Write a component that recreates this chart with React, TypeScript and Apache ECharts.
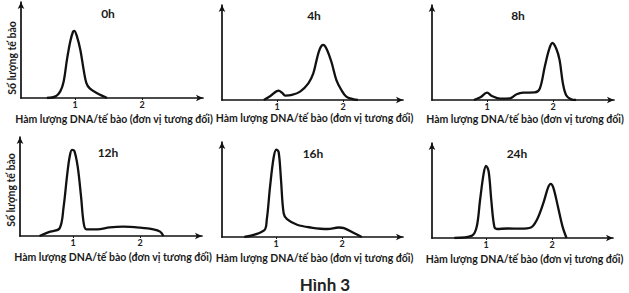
import React, { useEffect, useRef } from "react";
import * as echarts from "echarts";

const TITLES = ["0h", "4h", "8h", "12h", "16h", "24h"];
const X_TICKS = [1, 2];
const X_NAME = "Hàm lượng DNA/tế bào (đơn vị tương đối)";
const Y_NAME = "Số lượng tế bào";
const CAPTION = "Hình 3";

const S0h = [[0.58,0],[0.71,1.7],[0.78,6.9],[0.83,17],[0.88,40],[0.93,59],[0.97,69],[0.99,70],[1.03,64],[1.08,50],[1.13,29],[1.17,15.5],[1.22,10],[1.33,5],[1.48,0]];
const S4h = [[0.8,0],[0.9,4.2],[1.025,9.8],[1.075,7.7],[1.125,4.6],[1.225,5.3],[1.35,8.8],[1.475,17.5],[1.55,28],[1.6,42],[1.65,54],[1.7,58],[1.75,54],[1.825,40],[1.9,21],[1.975,10.5],[2.05,3.5],[2.15,1],[2.225,0]];
const S8h = [[0.8,0],[0.9,2.8],[1.0,7.7],[1.075,4.2],[1.2,1.4],[1.35,1.8],[1.45,6],[1.55,7.7],[1.725,8],[1.8,12],[1.875,35],[1.94,53],[1.99,60],[2.05,54],[2.1,42],[2.15,17.5],[2.2,5],[2.275,0.7],[2.35,0]];
const S12h = [[0.5,0],[0.66,4.4],[0.8,7.7],[0.86,29.5],[0.91,60],[0.95,80],[0.985,87],[1.02,86],[1.07,70],[1.12,40],[1.16,12.8],[1.2,6.7],[1.36,6.7],[1.55,8.7],[1.75,9.4],[2.0,8.4],[2.2,6.7],[2.3,4.4],[2.35,0]];
const S16h = [[0.52,0],[0.82,7],[0.86,18],[0.91,53],[0.965,84],[1.005,92],[1.04,89.5],[1.076,60],[1.116,25],[1.167,18.8],[1.32,12.9],[1.53,10],[1.78,8.4],[1.95,10],[2.03,9.4],[2.18,4.2],[2.3,0]];
const S24h = [[0.52,0],[0.79,2.5],[0.86,12],[0.91,40],[0.965,68],[1.0,76],[1.04,70],[1.08,40],[1.126,12],[1.167,9.5],[1.32,10],[1.53,9.8],[1.68,11],[1.77,19],[1.87,37],[1.94,53],[1.98,57],[2.02,53],[2.09,33],[2.16,12],[2.22,0]];
const SERIES = [S0h, S4h, S8h, S12h, S16h, S24h];

// layout: left, top, width, height, x-pixel of tick 1, pixels per unit
const LAYOUT = [
  { left: 21, top: 2, width: 182, height: 96, t1: 75, unit: 67, tx: 108, ty: 13, nameGap: 15 },
  { left: 222, top: 5, width: 181, height: 95, t1: 277, unit: 66, tx: 314, ty: 15, nameGap: 12 },
  { left: 432, top: 5, width: 182, height: 95, t1: 487, unit: 66, tx: 518, ty: 15, nameGap: 13 },
  { left: 20, top: 137, width: 182, height: 99, t1: 73, unit: 67, tx: 108, ty: 152, nameGap: 15 },
  { left: 222, top: 142, width: 181, height: 95, t1: 276, unit: 66, tx: 313, ty: 153, nameGap: 15 },
  { left: 432, top: 143, width: 181, height: 95, t1: 486, unit: 66, tx: 517, ty: 153, nameGap: 15 },
];

const FONT = "Lato, 'Noto Sans', sans-serif";

export default function App() {
  const ref = useRef<HTMLDivElement>(null);
  useEffect(() => {
    const chart = echarts.init(ref.current!, undefined, { renderer: "svg" });
    const axisLine = { lineStyle: { color: "#111", width: 1.7 }, symbol: ["none", "arrow"], symbolSize: [5, 7] };
    const grid = LAYOUT.map((l) => ({ left: l.left, top: l.top, width: l.width, height: l.height, containLabel: false }));
    const xAxis = LAYOUT.map((l, i) => {
      const min = 1 - (l.t1 - l.left) / l.unit;
      const max = min + l.width / l.unit;
      return {
        type: "value", gridIndex: i, min, max,
        axisLine: { ...axisLine, onZero: false },
        axisTick: { show: true, length: 2, customValues: X_TICKS, lineStyle: { color: "#111", width: 1 } },
        axisLabel: { customValues: X_TICKS, margin: 2, fontSize: 9, fontWeight: "bold", color: "#222", fontFamily: FONT },
        splitLine: { show: false },
        name: X_NAME, nameLocation: "middle", nameGap: l.nameGap,
        nameTextStyle: { fontSize: 10.5, fontWeight: "bold", color: "#1a1a1a", fontFamily: FONT, padding: [0, 0, 0, 4] },
      };
    });
    const yAxis = LAYOUT.map((l, i) => ({
      type: "value", gridIndex: i, min: 0, max: 100,
      axisLine: { ...axisLine, show: true },
      axisTick: { show: false }, axisLabel: { show: false }, splitLine: { show: false },
    }));
    const series = SERIES.map((d, i) => ({
      type: "line", xAxisIndex: i, yAxisIndex: i, data: d, smooth: 0.35, symbol: "none",
      lineStyle: { color: "#111", width: 2.3 },
    }));
    const graphic: any[] = LAYOUT.map((l, i) => ({
      type: "text", x: l.tx, y: l.ty,
      style: { text: TITLES[i], align: "center", verticalAlign: "middle", fontSize: 12, fontWeight: "bold", fill: "#1a1a1a", fontFamily: FONT },
    }));
    graphic.push(
      { type: "text", x: 12, y: 58, rotation: Math.PI / 2, style: { text: Y_NAME, align: "center", verticalAlign: "middle", fontSize: 10.5, fontWeight: "bold", fill: "#1a1a1a", fontFamily: FONT } },
      { type: "text", x: 11, y: 190, rotation: Math.PI / 2, style: { text: Y_NAME, align: "center", verticalAlign: "middle", fontSize: 10.5, fontWeight: "bold", fill: "#1a1a1a", fontFamily: FONT } },
      { type: "text", x: 325, y: 284, style: { text: CAPTION, align: "center", verticalAlign: "middle", fontSize: 17, fontWeight: "bold", fill: "#222", fontFamily: FONT } },
    );
    chart.setOption({ animation: false, backgroundColor: "#fff", grid, xAxis, yAxis, series, graphic });
    return () => chart.dispose();
  }, []);
  return <div ref={ref} style={{ position: "fixed", left: 0, top: 0, width: 629, height: 293 }} />;
}
